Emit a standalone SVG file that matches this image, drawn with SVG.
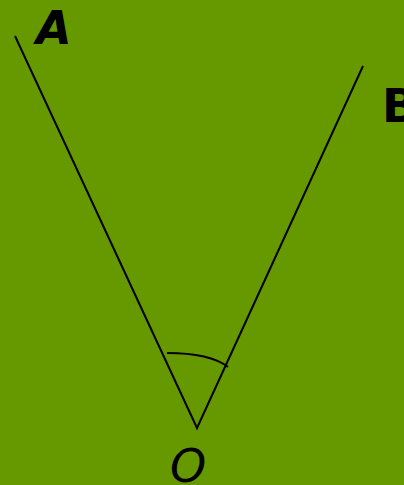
<svg xmlns="http://www.w3.org/2000/svg" width="404" height="485" viewBox="0 0 404 485">
<style>
.ln{stroke:#000;stroke-width:2;fill:none}
.lb{font-family:"DejaVu Sans",sans-serif;font-size:46px;fill:#000}
</style>
<rect width="404" height="485" fill="#669900"/>
<g id="connectors">
<polyline class="ln" points="15,36 197,428 363,66"/>
<path id="angle-arc" class="ln" d="M167,353 Q210,353 228,367"/>
</g>
<g id="A"><text class="lb" x="36" y="44" font-weight="bold" font-style="italic">A</text></g>
<g id="B"><text class="lb" x="382" y="122" font-weight="bold">B</text></g>
<g id="O"><text class="lb" x="170" y="482" font-style="italic">O</text></g>
</svg>
